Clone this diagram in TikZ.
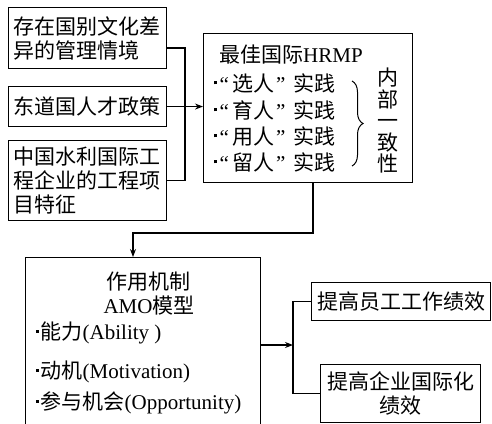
\documentclass[tikz,border=0pt]{standalone}
\usepackage{fontspec}
\setmainfont{Noto Sans CJK SC}
\newfontfamily\latf{Liberation Serif}
\usetikzlibrary{arrows.meta,decorations.pathreplacing}
\newcommand{\mylat}[1]{{\latf #1}}
\newcommand{\bul}{\rule[0.32em]{3pt}{3pt}\hspace{1.5pt}}
\newcommand{\qq}[1]{\hspace{1pt}\mylat{“}\hspace{3pt}#1\hspace{2pt}\mylat{”}\hspace{8pt}}
\begin{document}
\begin{tikzpicture}[x=1pt,y=-1pt,
  font=\fontsize{21}{24}\selectfont,
  box/.style={draw, line width=1.1pt, inner sep=0pt},
  txt/.style={inner sep=0pt},
  conn/.style={line width=1.1pt},
  arr/.style={conn, -{Stealth[length=8pt,width=6pt]}}]
\useasboundingbox (0,0) rectangle (492,423);
\clip (0,0) rectangle (492,423);
\fill[white] (0,0) rectangle (492,423);

% left boxes
\node[box, anchor=north west, minimum width=158, minimum height=61,
      text width=148, align=left, inner xsep=5] (b1) at (8,7)
      {存在国别文化差\\异的管理情境};
\node[box, anchor=north west, minimum width=158, minimum height=40,
      text width=148, align=left, inner xsep=5] (b2) at (8,86)
      {东道国人才政策};
\node[box, anchor=north west, minimum width=158, minimum height=80,
      text width=148, align=left, inner xsep=5] (b3) at (8,140)
      {中国水利国际工\\程企业的工程项\\目特征};

% central box
\node[box, anchor=north west, minimum width=209, minimum height=149] (big) at (203,33) {};
\node[txt, anchor=west] (t) at (219,55) {最佳国际\mylat{HRMP}};
\node[txt, anchor=west] (p1) at (214,83) {\bul{}\qq{选人}实践};
\node[txt, anchor=west] (p2) at (214,110) {\bul{}\qq{育人}实践};
\node[txt, anchor=west] (p3) at (214,136) {\bul{}\qq{用人}实践};
\node[txt, anchor=west] (p4) at (214,162) {\bul{}\qq{留人}实践};
\draw[conn, line width=1pt, decorate, decoration={brace, amplitude=11pt}] (352,81) -- (352,166);
\node[txt, align=center, font=\fontsize{21}{21.5}\selectfont] (nb) at (388,121) {内\\部\\一\\致\\性};

% bottom box
\node[box, anchor=north west, minimum width=235, minimum height=200] (bot) at (25,257) {};
\node[txt] (m1) at (148,282) {作用机制};
\node[txt] (m2) at (149,306) {\mylat{AMO}模型};
\node[txt, anchor=west] (m3) at (36,333) {\bul{}能力\mylat{(Ability )}};
\node[txt, anchor=west] (m4) at (36,372) {\bul{}动机\mylat{(Motivation)}};
\node[txt, anchor=west] (m5) at (36,403) {\bul{}参与机会\mylat{(Opportunity)}};

% right boxes
\node[box, anchor=north west, minimum width=179, minimum height=38] (r1) at (311,282) {提高员工工作绩效};
\node[box, anchor=north west, minimum width=160, minimum height=58, align=center] (r2) at (320,364) {提高企业国际化\\绩效};

% connectors
\coordinate (v1) at (185,48);
\draw[conn] (b1.east |- v1) -- (v1) |- (b3.east);
\draw[arr] (b2.east) -- (big.west |- b2.east);
\coordinate (k1) at (313,233);
\coordinate (k2) at (133,233);
\draw[arr] (big.south -| k1) -- (k1) -- (k2) -- (bot.north -| k2);
\coordinate (j) at (293,345);
\draw[arr] (bot.east |- j) -- (j);
\draw[conn] (r1.west) -| (j) |- (r2.west);
\end{tikzpicture}
\end{document}
